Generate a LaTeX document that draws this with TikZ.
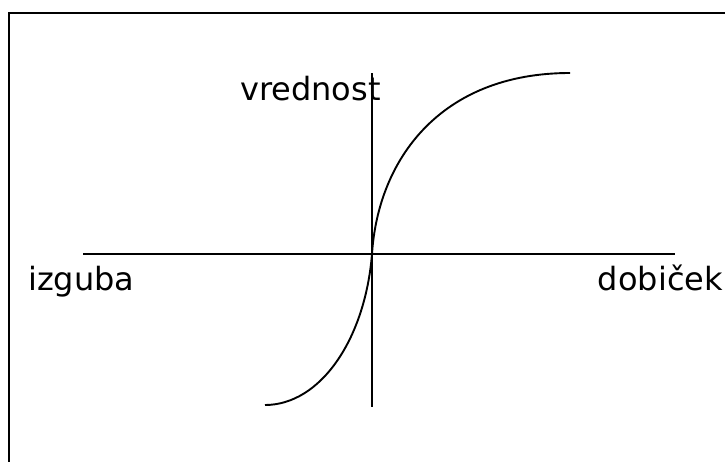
\documentclass[tikz,border=0pt]{standalone}
\usepackage{fontspec}
\setmainfont{DejaVu Sans}
\begin{document}
\begin{tikzpicture}[x=1pt,y=-1pt,
  axis/.style={line width=1.5pt,black},
  curve/.style={line width=1.9pt,black},
  lbl/.style={inner sep=0pt,font=\fontsize{32}{38}\selectfont}]
\useasboundingbox (0,0) rectangle (725,461);
\clip (0,0) rectangle (725,461);
\draw[line width=2pt] (9,13) rectangle (760,500);
\coordinate (hl) at (83,254);
\coordinate (hr) at (675,254);
\coordinate (vt) at (372,73);
\coordinate (vb) at (372,407);
\coordinate (o) at (372,254);
\coordinate (top) at (570,73);
\coordinate (bot) at (265,405);
\draw[axis] (hl) -- (hr);
\draw[axis] (vt) -- (vb);
\draw[curve] (bot) .. controls (320,405) and (365,340) .. (o)
  .. controls (378,160) and (440,73) .. (top);
\node[lbl,anchor=base west] (v) at (240,100) {vrednost};
\node[lbl,anchor=base west] (i) at (28,290) {izguba};
\node[lbl,anchor=base east] (d) at (723,290) {dobiček};
\end{tikzpicture}
\end{document}
